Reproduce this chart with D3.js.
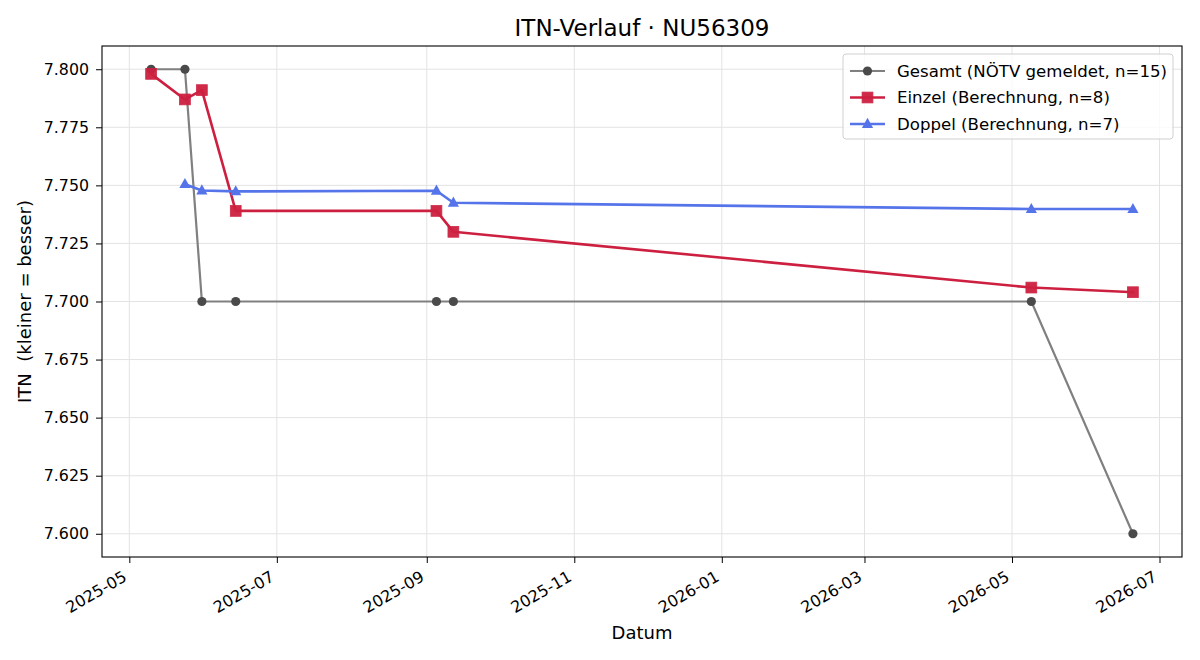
<!DOCTYPE html>
<html>
<head>
<meta charset="utf-8">
<script src="https://cdn.jsdelivr.net/npm/d3@7"></script>
<style>
  html, body { margin: 0; padding: 0; background: #fff; }
  svg { display: block; font-family: "DejaVu Sans", sans-serif; }
  text { white-space: pre; }
</style>
</head>
<body>
<svg id="chart" width="1200" height="660"></svg>
<script>
// ---- data ----
const gesamtDates  = ["2025-05-10","2025-05-24","2025-05-31","2025-06-14","2025-09-05","2025-09-12","2026-05-09","2026-06-20"];
const gesamtValues = [7.800, 7.800, 7.700, 7.700, 7.700, 7.700, 7.700, 7.600];

const einzelDates  = ["2025-05-10","2025-05-24","2025-05-31","2025-06-14","2025-09-05","2025-09-12","2026-05-09","2026-06-20"];
const einzelValues = [7.798, 7.787, 7.791, 7.739, 7.739, 7.730, 7.706, 7.704];

const doppelDates  = ["2025-05-24","2025-05-31","2025-06-14","2025-09-05","2025-09-12","2026-05-09","2026-06-20"];
const doppelValues = [7.7505, 7.7478, 7.7474, 7.7477, 7.7425, 7.7398, 7.7398];

const seriesNames = ["Gesamt (NÖTV gemeldet, n=15)", "Einzel (Berechnung, n=8)", "Doppel (Berechnung, n=7)"];
const yTickValues = [7.600, 7.625, 7.650, 7.675, 7.700, 7.725, 7.750, 7.775, 7.800];
const titleText = "ITN-Verlauf · NU56309";
const xLabelText = "Datum";
const yLabelText = "ITN  (kleiner = besser)";

// ---- setup ----
const FONT = "DejaVu Sans, sans-serif";
const W = 1200, H = 660;
const margin = {left: 102, right: 18, top: 46, bottom: 103};
const iw = W - margin.left - margin.right;
const ih = H - margin.top - margin.bottom;
const parse = d3.utcParse("%Y-%m-%d");

const mk = (dates, vals) => dates.map((d, i) => ({date: parse(d), value: vals[i]}));
const series = [
  {name: seriesNames[0], data: mk(gesamtDates, gesamtValues), line: "#808080", lw: 2.2, marker: "circle", mfill: "#4a4a4a", msize: 4.6},
  {name: seriesNames[1], data: mk(einzelDates, einzelValues), line: "#cd2040", lw: 2.6, marker: "square", mfill: "#cd2040", msize: 5.4},
  {name: seriesNames[2], data: mk(doppelDates, doppelValues), line: "#5674ea", lw: 2.6, marker: "triangle", mfill: "#5674ea", msize: 5.6},
];

const allDates = series.flatMap(s => s.data.map(d => d.date));
const allVals = series.flatMap(s => s.data.map(d => d.value));
const [dmin, dmax] = d3.extent(allDates);
const dspan = dmax - dmin;
const [vmin, vmax] = d3.extent(allVals);
const vspan = vmax - vmin;

const x = d3.scaleUtc()
  .domain([new Date(+dmin - 0.05 * dspan), new Date(+dmax + 0.05 * dspan)])
  .range([0, iw]);
const y = d3.scaleLinear()
  .domain([vmin - 0.05 * vspan, vmax + 0.05 * vspan])
  .range([ih, 0]);

const svg = d3.select("#chart");
svg.append("rect").attr("width", W).attr("height", H).attr("fill", "#fff");
const g = svg.append("g").attr("transform", `translate(${margin.left},${margin.top})`);

const xTicks = x.ticks(d3.utcMonth.every(2));

// grid
g.append("g").selectAll("line").data(xTicks).join("line")
  .attr("x1", d => x(d)).attr("x2", d => x(d)).attr("y1", 0).attr("y2", ih)
  .attr("stroke", "#e3e3e3").attr("stroke-width", 1);
g.append("g").selectAll("line").data(yTickValues).join("line")
  .attr("x1", 0).attr("x2", iw).attr("y1", d => y(d)).attr("y2", d => y(d))
  .attr("stroke", "#e3e3e3").attr("stroke-width", 1);

// axes
const xAxis = d3.axisBottom(x).tickValues(xTicks).tickFormat(d3.utcFormat("%Y-%m")).tickSize(6).tickPadding(6);
const xg = g.append("g").attr("transform", `translate(0,${ih})`).call(xAxis)
  .attr("font-family", FONT);
xg.select(".domain").remove();
xg.selectAll(".tick line").attr("stroke", "#000").attr("stroke-width", 1);
xg.selectAll(".tick text")
  .attr("font-size", 16).attr("fill", "#000")
  .attr("text-anchor", "end")
  .attr("y", 0).attr("x", 0).attr("dy", 0)
  .attr("transform", "translate(-2,23) rotate(-30)");

const yAxis = d3.axisLeft(y).tickValues(yTickValues).tickFormat(d3.format(".3f")).tickSize(6).tickPadding(7);
const yg = g.append("g").call(yAxis).attr("font-family", FONT);
yg.select(".domain").remove();
yg.selectAll(".tick line").attr("stroke", "#000").attr("stroke-width", 1);
yg.selectAll(".tick text").attr("font-size", 15.8).attr("fill", "#000");

// lines and markers
const lineGen = d3.line().x(d => x(d.date)).y(d => y(d.value));
const triPath = (s) => `M0,${-s*1.1}L${s},${s*0.7}L${-s},${s*0.7}Z`;

function drawMarker(sel, s) {
  if (s.marker === "circle") {
    sel.append("circle").attr("r", s.msize).attr("fill", s.mfill);
  } else if (s.marker === "square") {
    sel.append("rect").attr("x", -s.msize).attr("y", -s.msize)
      .attr("width", 2 * s.msize).attr("height", 2 * s.msize)
      .attr("fill", s.mfill).attr("stroke", s.mfill).attr("stroke-width", 0.8).attr("opacity", 0.95);
  } else {
    sel.append("path").attr("d", triPath(s.msize)).attr("fill", s.mfill);
  }
}

series.forEach(s => {
  const sg = g.append("g");
  sg.append("path").datum(s.data)
    .attr("d", lineGen).attr("fill", "none")
    .attr("stroke", s.line).attr("stroke-width", s.lw)
    .attr("stroke-linejoin", "round").attr("stroke-linecap", "square");
  sg.selectAll("g.m").data(s.data).join("g").attr("class", "m")
    .attr("transform", d => `translate(${x(d.date)},${y(d.value)})`)
    .each(function() { drawMarker(d3.select(this), s); });
});

// frame
g.append("rect").attr("width", iw).attr("height", ih)
  .attr("fill", "none").attr("stroke", "#000").attr("stroke-width", 1.1);

// legend
const lg = g.append("g").attr("transform", `translate(${843 - margin.left},${54 - margin.top})`);
lg.append("rect").attr("width", 330).attr("height", 85).attr("rx", 3)
  .attr("fill", "#fff").attr("fill-opacity", 0.8)
  .attr("stroke", "#d0d0d0").attr("stroke-width", 1);
series.forEach((s, i) => {
  const row = lg.append("g").attr("transform", `translate(0,${17 + i * 26.5})`);
  row.append("line").attr("x1", 7).attr("x2", 42).attr("y1", 0).attr("y2", 0)
    .attr("stroke", s.line).attr("stroke-width", s.lw);
  const m = row.append("g").attr("transform", "translate(24.5,0)");
  drawMarker(m, s);
  row.append("text").attr("x", 54).attr("y", 0).attr("dy", "0.36em")
    .attr("font-size", 16.6).attr("fill", "#000").text(s.name);
});

// titles
svg.append("text").attr("x", margin.left + iw / 2).attr("y", 36)
  .attr("text-anchor", "middle").attr("font-size", 23).attr("fill", "#000").text(titleText);
svg.append("text").attr("x", margin.left + iw / 2).attr("y", 639)
  .attr("text-anchor", "middle").attr("font-size", 18).attr("fill", "#000").text(xLabelText);
svg.append("text")
  .attr("transform", `translate(31,${margin.top + ih / 2}) rotate(-90)`)
  .attr("text-anchor", "middle").attr("font-size", 18).attr("fill", "#000").text(yLabelText);
</script>
</body>
</html>
